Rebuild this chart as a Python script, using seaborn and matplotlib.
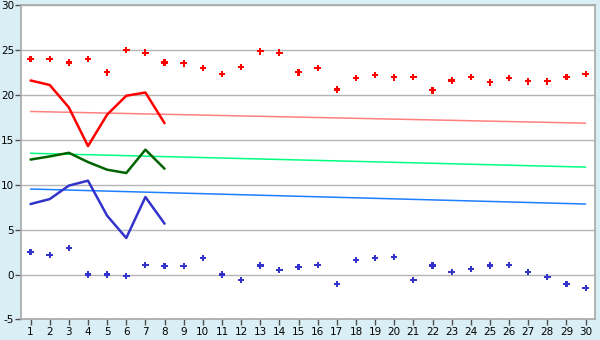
import numpy as np
import pandas as pd
import matplotlib
matplotlib.use("Agg")
import matplotlib.pyplot as plt
import seaborn as sns

days = list(range(1, 31))
red_points = [24.0, 24.0, 23.6, 24.0, 22.5, 25.0, 24.7, 23.6, 23.5, 23.0,
              22.3, 23.1, 24.85, 24.7, 22.5, 23.0, 20.6, 21.85, 22.2, 21.96,
              22.0, 20.5, 21.6, 22.0, 21.4, 21.85, 21.5, 21.5, 22.0, 22.3]
blue_points = [2.5, 2.2, 2.96, 0.0, 0.0, -0.15, 1.07, 0.96, 0.96, 1.85,
               0.0, -0.6, 1.0, 0.52, 0.85, 1.07, -1.04, 1.63, 1.85, 1.96,
               -0.6, 1.0, 0.3, 0.63, 1.0, 1.07, 0.3, -0.26, -1.04, -1.48]
line_days = [1, 2, 3, 4, 5, 6, 7, 8]
red_line = [21.6, 21.1, 18.6, 14.3, 17.8, 19.9, 20.26, 16.85]
green_line = [12.8, 13.15, 13.55, 12.52, 11.67, 11.3, 13.9, 11.78]
blue_line = [7.85, 8.4, 9.9, 10.45, 6.55, 4.07, 8.63, 5.67]
trend_days = [1, 30]
red_trend = [18.15, 16.85]
green_trend = [13.5, 11.96]
blue_trend = [9.52, 7.85]
y_ticks = [-5, 0, 5, 10, 15, 20, 25, 30]

bg = "#D9EEF5"
sns.set_theme(style="white")
plt.rcParams['font.family'] = ['DejaVu Sans']
plt.rcParams['axes.unicode_minus'] = False

fig = plt.figure(figsize=(6, 3.4), dpi=100, facecolor=bg)
ax = fig.add_axes([0.035, 0.0603, 0.957, 0.925])
ax.set_facecolor("white")

pts = pd.DataFrame({"day": days, "red": red_points, "blue": blue_points})
lines = pd.DataFrame({"day": line_days, "red": red_line, "green": green_line, "blue": blue_line})
trends = pd.DataFrame({"day": trend_days, "red": red_trend, "green": green_trend, "blue": blue_trend})

ax.set_axisbelow(True)
ax.yaxis.grid(True, color="#B4B4B4", linewidth=1)
ax.xaxis.grid(False)

sns.lineplot(data=trends, x="day", y="red", color="#FF8080", linewidth=1.1, ax=ax)
sns.lineplot(data=trends, x="day", y="green", color="#00FF80", linewidth=1.1, ax=ax)
sns.lineplot(data=trends, x="day", y="blue", color="#1E7FFF", linewidth=1.1, ax=ax)

sns.lineplot(data=lines, x="day", y="red", color="#FF0000", linewidth=1.8, ax=ax)
sns.lineplot(data=lines, x="day", y="green", color="#006400", linewidth=1.8, ax=ax)
sns.lineplot(data=lines, x="day", y="blue", color="#3333CC", linewidth=1.8, ax=ax)

sns.scatterplot(data=pts, x="day", y="red", color="#FF0000", marker="P", s=22,
                edgecolor="none", linewidth=0, ax=ax)
sns.scatterplot(data=pts, x="day", y="blue", color="#3333CC", marker="P", s=22,
                edgecolor="none", linewidth=0, ax=ax)

ax.set_xlim(0.5, 30.5)
ax.set_ylim(-5, 30)
ax.set_xticks(days)
ax.set_xticklabels([str(d) for d in days])
ax.set_yticks(y_ticks)
ax.set_xlabel("")
ax.set_ylabel("")
for s in ax.spines.values():
    s.set_color("#A8A8A8")
    s.set_linewidth(1.2)
ax.tick_params(axis="both", which="both", length=4, width=1, color="#505050",
               labelsize=7.5, labelcolor="black", pad=1.5)
ax.tick_params(axis="x", direction="out", bottom=True)
ax.tick_params(axis="y", direction="out", left=True, pad=1)

fig.savefig("out.png", dpi=100, facecolor=bg)
